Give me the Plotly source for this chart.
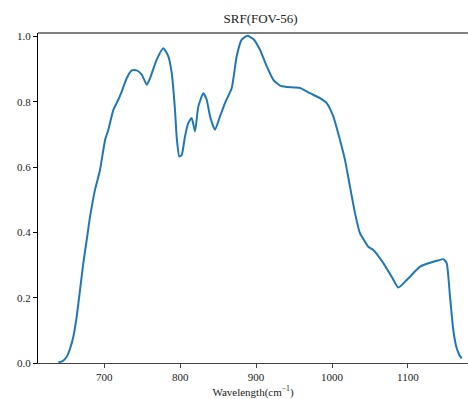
import plotly.graph_objects as go

wavenumber = [639.4, 645.0, 650.5, 655.0, 659.2, 663.6, 668.0, 672.3, 676.8, 681.2, 687.7, 694.3,
              701.0, 705.3, 711.9, 718.4, 722.9, 729.5, 736.1, 742.7, 749.3, 755.9,
              760.2, 769.0, 777.7, 784.3, 788.8, 793.1, 795.4, 798.8, 802.0, 806.3,
              810.7, 815.1, 819.5, 823.8, 830.4, 834.9, 839.3, 845.8, 852.4, 859.0,
              867.9, 874.4, 881.0, 888.4, 896.3, 905.1, 914.0, 922.7, 931.5, 940.3,
              957.8, 971.0, 984.2, 993.0, 1001.7, 1010.5, 1017.1, 1023.7, 1030.3, 1036.9,
              1041.2, 1047.8, 1054.4, 1067.6, 1078.7, 1087.4, 1098.4, 1116.0, 1129.1, 1140.0,
              1146.6, 1151.1, 1155.5, 1159.8, 1164.3, 1168.0, 1170.9]
srf = [0.002, 0.006, 0.019, 0.045, 0.081, 0.142, 0.224, 0.306, 0.377, 0.448, 0.530, 0.591,
       0.683, 0.714, 0.775, 0.806, 0.831, 0.872, 0.896, 0.896, 0.883, 0.852,
       0.872, 0.929, 0.964, 0.939, 0.888, 0.775, 0.690, 0.632, 0.637, 0.694,
       0.735, 0.750, 0.709, 0.785, 0.826, 0.806, 0.755, 0.714, 0.755, 0.796,
       0.842, 0.939, 0.990, 1.002, 0.992, 0.959, 0.908, 0.867, 0.849, 0.845,
       0.842, 0.826, 0.811, 0.796, 0.755, 0.683, 0.622, 0.540, 0.459, 0.397,
       0.380, 0.356, 0.346, 0.306, 0.264, 0.231, 0.254, 0.295, 0.307, 0.314,
       0.318, 0.306, 0.203, 0.101, 0.045, 0.024, 0.014]

x_ticks = [700, 800, 900, 1000, 1100]
y_ticks = [0.0, 0.2, 0.4, 0.6, 0.8, 1.0]
y_tick_labels = ["0.0", "0.2", "0.4", "0.6", "0.8", "1.0"]

serif = "Liberation Serif"
tickfont = dict(family=serif, color="#222", size=11)

fig = go.Figure()
fig.add_trace(go.Scatter(x=wavenumber, y=srf, mode="lines",
                         line=dict(color="#1f77b4", width=2, shape="spline", smoothing=0.5),
                         showlegend=False, hoverinfo="skip"))

fig.update_layout(
    width=468, height=399,
    margin=dict(l=38, r=0, t=33, b=36),
    paper_bgcolor="white", plot_bgcolor="white",
    font=dict(family=serif, color="#222", size=11),
    title=dict(text="SRF(FOV-56)", x=(260.5 - 38) / 430, xref="paper", xanchor="center",
               y=1 - 18 / 399, yanchor="middle",
               font=dict(family=serif, size=13, color="#222")),
    xaxis=dict(range=[612.6, 1179.2], tickvals=x_ticks, ticks="outside", ticklen=4,
               tickcolor="#444", showline=True, linecolor="#444", linewidth=1,
               mirror=False, showgrid=False, zeroline=False, tickfont=tickfont,
               title=dict(text="Wavelength(cm<sup>−1</sup>)", standoff=15,
                          font=dict(family=serif, size=11, color="#222")),
               automargin=False),
    yaxis=dict(range=[0, 1.0104], tickvals=y_ticks, ticktext=y_tick_labels,
               ticks="outside", ticklen=4, tickcolor="black", tickfont=tickfont,
               showline=True, linecolor="black", linewidth=1, mirror=False,
               showgrid=False, zeroline=False, automargin=False),
    shapes=[dict(type="line", xref="paper", yref="paper", x0=0, x1=1, y0=1, y1=1,
                 line=dict(color="black", width=1))],
)

fig.write_html("out.html", config={"displayModeBar": False},
               post_script="document.body.style.margin='0';document.body.style.overflow='hidden';")
